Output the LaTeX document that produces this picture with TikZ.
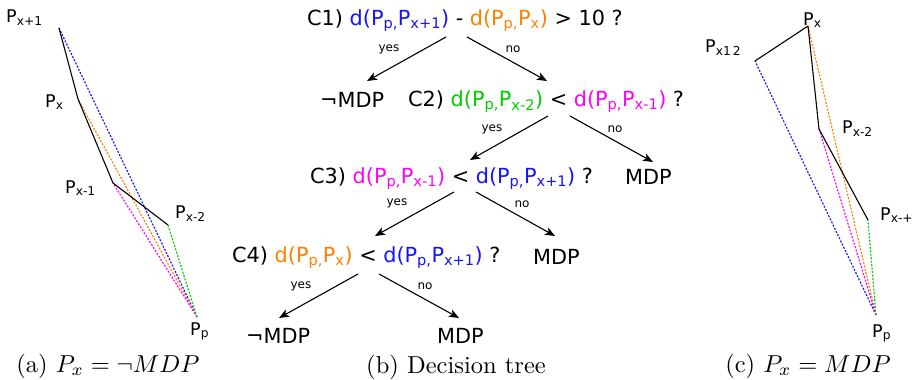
\documentclass[tikz,border=0pt]{standalone}
\usepackage{fontspec}
\newfontfamily\dv{DejaVu Sans}
\usetikzlibrary{arrows.meta}
\definecolor{cblue}{RGB}{20,20,255}
\definecolor{corange}{RGB}{255,128,0}
\definecolor{cgreen}{RGB}{0,204,0}
\definecolor{cmag}{RGB}{255,0,255}
\newcommand\sbs[1]{\textsubscript{#1}}
\newcommand\dd[2]{\textcolor{#1}{d(P\sbs{p,}P\sbs{#2})}}
\newcommand\captext[1]{\scalebox{2.45}{\fontsize{10}{12}\selectfont #1}}
\begin{document}
\begin{tikzpicture}[x=1pt,y=-1pt,
  tx/.style={font=\dv\fontsize{20.8}{24}\selectfont, inner sep=0pt, anchor=base west},
  lab/.style={font=\dv\fontsize{12}{14}\selectfont, inner sep=0pt},
  pl/.style={font=\dv\fontsize{17.5}{20}\selectfont, inner sep=0pt, anchor=base west},
  captxt/.style={inner sep=0pt, anchor=base},
  arr/.style={-{Stealth[length=10pt,width=8pt,inset=2.5pt]}, line width=1.1pt},
  seg/.style={line width=1.1pt, line join=round},
  dl/.style={line width=1.15pt, dash pattern=on 2pt off 1.5pt}]
\useasboundingbox (0,0) rectangle (916,380);

% ---------- panel (a)
\coordinate (a1) at (59,28);
\coordinate (a2) at (78,99);
\coordinate (a3) at (113,183);
\coordinate (a4) at (168,225);
\coordinate (ap) at (197,317);
\draw[dl,cblue] (ap) -- (a1);
\draw[dl,corange] (ap) -- (a2);
\draw[dl,cmag] (ap) -- (a3);
\draw[dl,cgreen] (ap) -- (a4);
\draw[seg] (a1) -- (a2) -- (a3) -- (a4);
\node[pl] (la1) at (6,23) {P\sbs{x+1}};
\node[pl] (la2) at (45,107) {P\sbs{x}};
\node[pl] (la3) at (65,193) {P\sbs{x-1}};
\node[pl] (la4) at (175,218) {P\sbs{x-2}};
\node[pl] (lap) at (190,335) {P\sbs{p}};
\node[captxt] (capa) at (108,372) {\captext{(a) $P_x = \neg MDP$}};

% ---------- panel (c)
\coordinate (c1p) at (755,61);
\coordinate (c2p) at (808,26);
\coordinate (c3p) at (819,129);
\coordinate (c4p) at (868,220);
\coordinate (cpp) at (876,315);
\draw[dl,cblue] (cpp) -- (c1p);
\draw[dl,corange] (cpp) -- (c2p);
\draw[dl,cmag] (cpp) -- (c3p);
\draw[dl,cgreen] (cpp) -- (c4p);
\draw[seg] (c1p) -- (c2p) -- (c3p) -- (c4p);
\node[pl] (lc2) at (803,25) {P\sbs{x}};
\node[pl] (lc1) at (705,52) {P\sbs{x1\,2}};
\node[pl] (lc3) at (842,133) {P\sbs{x-2}};
\node[pl] (lc4) at (880,220) {P\sbs{x-+}};
\node[pl] (lcp) at (872,337) {P\sbs{p}};
\node[captxt] (capc) at (808,372) {\captext{(c) $P_x = MDP$}};

% ---------- panel (b): decision tree
\node[tx] (c1) at (307,25) {C1) \dd{cblue}{x+1} - \dd{corange}{x} > 10 ?};
\node[tx] (n1) at (320,107) {¬MDP};
\node[tx] (c2) at (408,106.5) {C2) \dd{cgreen}{x-2} < \dd{cmag}{x-1} ?};
\node[tx] (c3) at (310,183) {C3) \dd{cmag}{x-1} < \dd{cblue}{x+1} ?};
\node[tx] (m1) at (625,184) {MDP};
\node[tx] (c4) at (232,262) {C4) \dd{corange}{x} < \dd{cblue}{x+1} ?};
\node[tx] (m2) at (533,264) {MDP};
\node[tx] (n2) at (246,343) {¬MDP};
\node[tx] (m3) at (437,343) {MDP};

\draw[arr] ([shift={(139,12)}]c1.base west) -- ([shift={(47,-26)}]n1.base west);
\draw[arr] ([shift={(160,12)}]c1.base west) -- ([shift={(139,-25.5)}]c2.base west);
\draw[arr] ([shift={(140,9.5)}]c2.base west) -- ([shift={(160,-23)}]c3.base west);
\draw[arr] ([shift={(162,9.5)}]c2.base west) -- ([shift={(28,-22)}]m1.base west);
\draw[arr] ([shift={(144,9)}]c3.base west) -- ([shift={(143,-26)}]c4.base west);
\draw[arr] ([shift={(166,9)}]c3.base west) -- ([shift={(22,-28)}]m2.base west);
\draw[arr] ([shift={(126,12)}]c4.base west) -- ([shift={(33,-25)}]n2.base west);
\draw[arr] ([shift={(147,12)}]c4.base west) -- ([shift={(22,-25)}]m3.base west);

\node[lab] (y1) at (389,49) {yes};
\node[lab] (o1) at (513,49) {no};
\node[lab] (y2) at (492,129) {yes};
\node[lab] (o2) at (615,129) {no};
\node[lab] (y3) at (397,203) {yes};
\node[lab] (o3) at (522,204) {no};
\node[lab] (y4) at (301,286) {yes};
\node[lab] (o4) at (425,286) {no};

\node[captxt] (capb) at (456,373) {\captext{(b) Decision tree}};
\end{tikzpicture}
\end{document}
